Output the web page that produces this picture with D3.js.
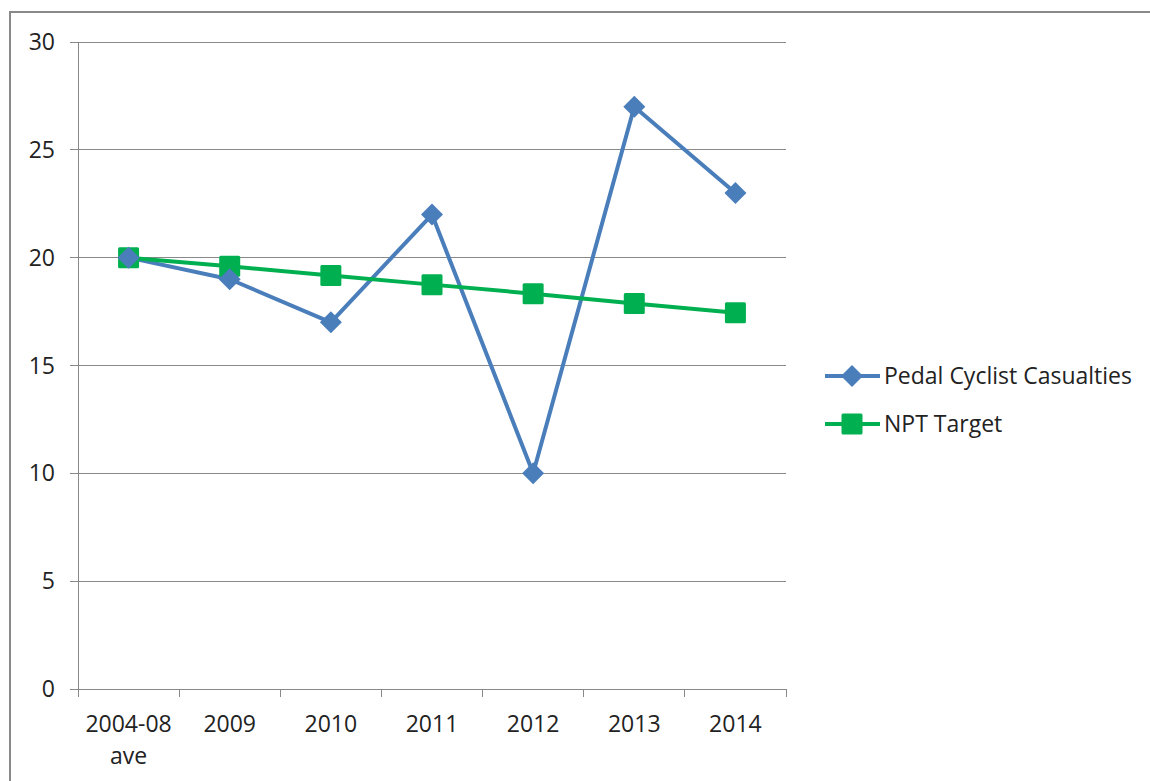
<!DOCTYPE html>
<html><head><meta charset="utf-8">
<script src="https://cdn.jsdelivr.net/npm/d3@7"></script>
<style>body{margin:0;background:#fff;}svg{display:block;}</style>
</head><body>
<script>
const categories = ["2004-08\nave","2009","2010","2011","2012","2013","2014"];
const cyclistValues = [20,19,17,22,10,27,23];
const targetValues = [20,19.6,19.17,18.75,18.33,17.88,17.45];
const yTicks = [0,5,10,15,20,25,30];
const seriesNames = ["Pedal Cyclist Casualties","NPT Target"];

const W=1150,H=781;
const svg=d3.select("body").append("svg").attr("width",W).attr("height",H);
svg.append("rect").attr("x",10).attr("y",12).attr("width",W+20).attr("height",H+20)
  .attr("fill","#fff").attr("stroke","#898989").attr("stroke-width",2);

const pL=78,pR=786,pT=42,pB=689;
const x=d3.scaleBand().domain(categories).range([pL,pR]);
const y=d3.scaleLinear().domain([0,30]).range([pB,pT]);
const font="'Open Sans', 'Noto Sans', sans-serif";
const fs=23;

svg.append("g").selectAll("line").data(yTicks).join("line")
  .attr("x1",pL-8).attr("x2",pR).attr("y1",d=>y(d)).attr("y2",d=>y(d))
  .attr("stroke","#898989").attr("stroke-width",1).attr("shape-rendering","crispEdges");
svg.append("line").attr("x1",pL).attr("x2",pL).attr("y1",pT).attr("y2",pB)
  .attr("stroke","#898989").attr("shape-rendering","crispEdges");
svg.append("g").selectAll("text").data(yTicks).join("text")
  .attr("x",55).attr("y",d=>y(d)+8).attr("text-anchor","end")
  .attr("font-family",font).attr("font-size",fs).attr("fill","#222").text(d=>d);
const bounds=categories.map(c=>x(c)).concat([pR]);
svg.append("g").selectAll("line").data(bounds).join("line")
  .attr("x1",d=>d).attr("x2",d=>d).attr("y1",pB).attr("y2",pB+8)
  .attr("stroke","#898989").attr("shape-rendering","crispEdges");
const xl=svg.append("g").selectAll("text").data(categories).join("text")
  .attr("x",d=>x(d)+x.bandwidth()/2).attr("y",732).attr("text-anchor","middle")
  .attr("font-family",font).attr("font-size",fs).attr("fill","#222");
xl.each(function(d){
  const parts=d.split("\n");
  d3.select(this).selectAll("tspan").data(parts).join("tspan")
    .attr("x",x(d)+x.bandwidth()/2).attr("dy",(p,i)=>i?32:0).text(p=>p);
});

const cx=(d,i)=>x(categories[i])+x.bandwidth()/2;
const line=d3.line().x((d,i)=>cx(d,i)).y(d=>y(d));
const blue="#4a7ebb", green="#00b050";
svg.append("path").datum(cyclistValues).attr("d",line).attr("fill","none")
  .attr("stroke",blue).attr("stroke-width",4).attr("stroke-linejoin","round");
svg.append("path").datum(targetValues).attr("d",line).attr("fill","none")
  .attr("stroke",green).attr("stroke-width",4).attr("stroke-linejoin","round");

const diamond=(g,px,py,r)=>g.append("path")
  .attr("d",`M${px},${py-r}L${px+r},${py}L${px},${py+r}L${px-r},${py}Z`).attr("fill",blue);
const square=(g,px,py,s)=>g.append("rect").attr("x",px-s/2).attr("y",py-s/2)
  .attr("width",s).attr("height",s).attr("rx",1.5).attr("fill",green);

const mk=svg.append("g");
targetValues.forEach((v,i)=>square(mk,cx(v,i),y(v),21));
cyclistValues.forEach((v,i)=>diamond(mk,cx(v,i),y(v),11));

const lg=svg.append("g");
const ly=[376,424];
[blue,green].forEach((c,i)=>{
  lg.append("line").attr("x1",825).attr("x2",880).attr("y1",ly[i]).attr("y2",ly[i])
    .attr("stroke",c).attr("stroke-width",4);
  if(i===0) diamond(lg,852,ly[i],11); else square(lg,852,ly[i],21);
  lg.append("text").attr("x",884).attr("y",ly[i]+8).attr("font-family",font)
    .attr("font-size",fs).attr("fill","#222").text(seriesNames[i]);
});
</script>
</body></html>
